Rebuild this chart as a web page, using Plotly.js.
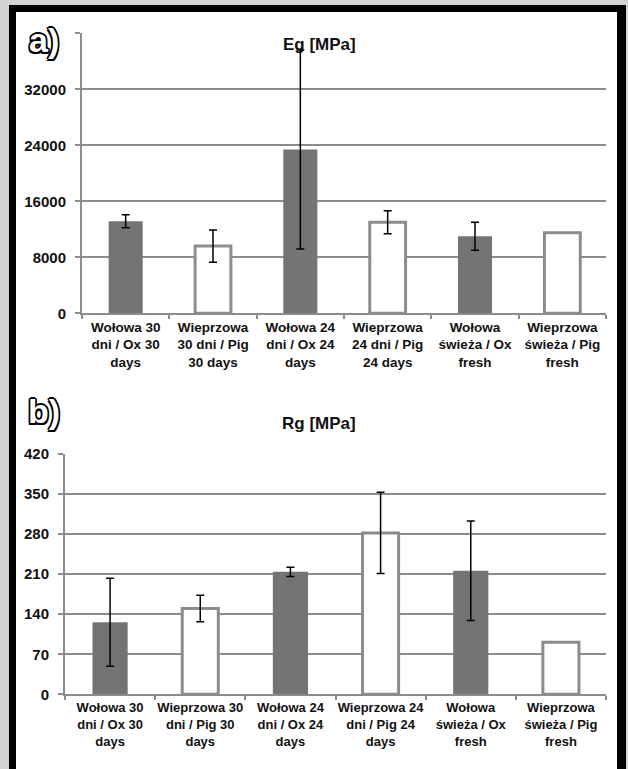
<!DOCTYPE html>
<html>
<head>
<meta charset="utf-8">
<script src="https://cdn.plot.ly/plotly-3.0.1.min.js"></script>
<style>html,body{margin:0;padding:0;background:#d3d3d3;}#chart{width:628px;height:769px;}</style>
</head>
<body>
<div id="chart"></div>
<script>
// ---- data ----
var categoriesA = [
  "Wołowa 30<br>dni / Ox 30<br>days",
  "Wieprzowa<br>30 dni / Pig<br>30 days",
  "Wołowa 24<br>dni / Ox 24<br>days",
  "Wieprzowa<br>24 dni / Pig<br>24 days",
  "Wołowa<br>świeża / Ox<br>fresh",
  "Wieprzowa<br>świeża / Pig<br>fresh"
];
var categoriesB = [
  "Wołowa 30<br>dni / Ox 30<br>days",
  "Wieprzowa 30<br>dni / Pig 30<br>days",
  "Wołowa 24<br>dni / Ox 24<br>days",
  "Wieprzowa 24<br>dni / Pig 24<br>days",
  "Wołowa<br>świeża / Ox<br>fresh",
  "Wieprzowa<br>świeża / Pig<br>fresh"
];
var egValues = [13150, 9600, 23400, 13000, 11000, 11500];
var egErrors = [930, 2300, 14200, 1650, 2000, NaN];
var rgValues = [126, 150, 214, 282, 216, 91];
var rgErrors = [77, 23, 8, 71, 87, NaN];
var egTickVals = [0, 8000, 16000, 24000, 32000, 40000];
var egTickText = ["0", "8000", "16000", "24000", "32000", ""];
var rgTickVals = [0, 70, 140, 210, 280, 350, 420];
var rgTickText = ["0", "70", "140", "210", "280", "350", "420"];
var titleA = "Eg [MPa]";
var titleB = "Rg [MPa]";
var panelA = "a)";
var panelB = "b)";

// ---- styling ----
var W = 628, H = 769;
function fx(p){ return p / W; }
function fy(p){ return 1 - p / H; }
var FONT = "Liberation Sans, Arial, sans-serif";
var GRID = "#8c8c8c";
var FILL = "#747474";
var barColors = [FILL, "#ffffff", FILL, "#ffffff", FILL, "#ffffff"];
var lineWidths = [0, 3, 0, 3, 0, 3];

function barTrace(cats, vals, errs, xa, ya, widths){
  return {
    type: "bar", x: cats, y: vals, xaxis: xa, yaxis: ya,
    width: widths,
    marker: { color: barColors, line: { color: GRID, width: lineWidths } },
    error_y: { type: "data", array: errs, visible: true, color: "#000", thickness: 1.5, width: 4 },
    hoverinfo: "none", showlegend: false
  };
}

var traces = [
  barTrace(categoriesA, egValues, egErrors, "x", "y", [0.39, 0.41, 0.39, 0.41, 0.39, 0.41]),
  barTrace(categoriesB, rgValues, rgErrors, "x2", "y2", [0.39, 0.40, 0.39, 0.40, 0.39, 0.40])
];

function xAxis(domain, anchor, size){
  return {
    domain: domain, anchor: anchor, type: "category",
    showline: true, linecolor: GRID, linewidth: 2,
    ticks: "outside", tickson: "boundaries", ticklen: 4, tickwidth: 2, tickcolor: GRID,
    tickangle: 0,
    showgrid: false, zeroline: false, fixedrange: true,
    tickfont: { family: FONT, size: size, color: "#111", weight: "bold" }
  };
}
function yAxis(domain, anchor, range, tv, tt){
  return {
    domain: domain, anchor: anchor, range: range,
    tickmode: "array", tickvals: tv, ticktext: tt,
    showgrid: true, gridcolor: GRID, gridwidth: 2,
    showline: true, linecolor: GRID, linewidth: 2,
    ticks: "outside", ticklen: 5, tickwidth: 2, tickcolor: GRID,
    ticklabelstandoff: 6,
    zeroline: false, fixedrange: true,
    tickfont: { family: FONT, size: 15, color: "#111", weight: "bold" }
  };
}

var outline = "-1.5px -1.5px 0 #000, 1.5px -1.5px 0 #000, -1.5px 1.5px 0 #000, 1.5px 1.5px 0 #000, 0 1.6px 0 #000, 0 -1.6px 0 #000, 1.6px 0 0 #000, -1.6px 0 0 #000";

var layout = {
  width: W, height: H,
  margin: { l: 0, r: 0, t: 0, b: 0 },
  paper_bgcolor: "#d3d3d3",
  plot_bgcolor: "rgba(0,0,0,0)",
  bargap: 0.6,
  xaxis: xAxis([fx(82), fx(606)], "y", 13.5),
  yaxis: yAxis([fy(313.3), fy(33.3)], "x", [0, 40000], egTickVals, egTickText),
  xaxis2: xAxis([fx(65), fx(606)], "y2", 13),
  yaxis2: yAxis([fy(694.3), fy(454)], "x2", [0, 420], rgTickVals, rgTickText),
  shapes: [
    { type: "rect", xref: "paper", yref: "paper", layer: "below",
      x0: fx(9), x1: fx(626), y0: fy(800), y1: fy(5), fillcolor: "#000", line: { width: 0 } },
    { type: "rect", xref: "paper", yref: "paper", layer: "below",
      x0: fx(16), x1: fx(617), y0: fy(800), y1: fy(12), fillcolor: "#fff", line: { width: 0 } }
  ],
  annotations: [
    { text: titleA, xref: "paper", yref: "paper", x: fx(319), y: fy(44), xanchor: "center", yanchor: "middle",
      showarrow: false, font: { family: FONT, size: 17, color: "#111", weight: "bold" } },
    { text: titleB, xref: "paper", yref: "paper", x: fx(319), y: fy(424), xanchor: "center", yanchor: "middle",
      showarrow: false, font: { family: FONT, size: 17, color: "#111", weight: "bold" } },
    { text: panelA, xref: "paper", yref: "paper", x: fx(44), y: fy(40), xanchor: "center", yanchor: "middle",
      showarrow: false, font: { family: FONT, size: 34, color: "#fff", weight: "bold", shadow: outline } },
    { text: panelB, xref: "paper", yref: "paper", x: fx(44), y: fy(411), xanchor: "center", yanchor: "middle",
      showarrow: false, font: { family: FONT, size: 34, color: "#fff", weight: "bold", shadow: outline } }
  ]
};

Plotly.newPlot("chart", traces, layout, { staticPlot: true, displayModeBar: false });
</script>
</body>
</html>
